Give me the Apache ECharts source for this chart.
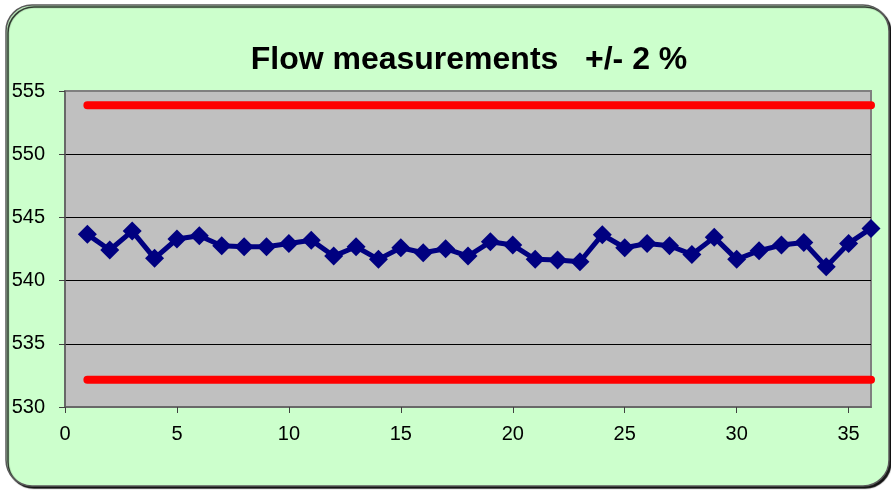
<!DOCTYPE html>
<html>
<head>
<meta charset="utf-8">
<script src="https://cdn.jsdelivr.net/npm/echarts@6/dist/echarts.min.js"></script>
<style>
html,body{margin:0;padding:0;background:#ffffff;}
#chart{width:891px;height:491px;}
</style>
</head>
<body>
<div id="chart"></div>
<script>
var titleText = 'Flow measurements   +/- 2 %';
var xs = [1,2,3,4,5,6,7,8,9,10,11,12,13,14,15,16,17,18,19,20,21,22,23,24,25,26,27,28,29,30,31,32,33,34,35,36];
var flow = [543.66,542.42,543.92,541.76,543.29,543.55,542.76,542.68,542.68,542.94,543.2,541.94,
            542.68,541.68,542.6,542.2,542.52,541.94,543.07,542.81,541.68,541.63,541.49,543.63,
            542.6,542.94,542.76,542.07,543.42,541.68,542.36,542.81,543.02,541.1,542.94,544.13];
var upperLimit = 553.87;
var lowerLimit = 532.15;
var yMin = 530, yMax = 555, yStep = 5;
var xMin = 0, xMax = 36, xStep = 5;

var flowPts = xs.map(function(x,i){return [x, flow[i]];});
var upperPts = xs.map(function(x){return [x, upperLimit];});
var lowerPts = xs.map(function(x){return [x, lowerLimit];});

var chart = echarts.init(document.getElementById('chart'), null, {renderer:'canvas'});
var font = 'Liberation Sans, Arial, sans-serif';
chart.setOption({
  animation:false,
  backgroundColor:'#ffffff',
  graphic:[{
    type:'rect', z:-100, silent:true,
    shape:{x:6,y:5,width:883,height:481,r:26},
    style:{fill:'#CCFFCC', stroke:'#5a5a5a', lineWidth:1.5,
           shadowColor:'rgba(0,0,0,0.9)', shadowOffsetX:2, shadowOffsetY:2, shadowBlur:1}
  }],
  title:{
    text:titleText, left:464, top:39, textAlign:'center',
    textStyle:{fontFamily:font, fontSize:32, fontWeight:'bold', color:'#000'}
  },
  grid:{left:65, top:91, right:20, bottom:84, show:true, backgroundColor:'#C0C0C0', borderColor:'#808080', borderWidth:2, containLabel:false},
  xAxis:{
    type:'value', min:xMin, max:xMax, interval:xStep,
    axisLine:{show:true, lineStyle:{color:'#606060', width:1.5}},
    axisTick:{show:true, length:6, lineStyle:{color:'#404040'}},
    axisLabel:{fontFamily:font, fontSize:20, color:'#000', margin:17, showMaxLabel:false},
    splitLine:{show:false}
  },
  yAxis:{
    type:'value', min:yMin, max:yMax, interval:yStep,
    axisLine:{show:true, lineStyle:{color:'#606060', width:1.5}},
    axisTick:{show:true, length:6, lineStyle:{color:'#404040'}},
    axisLabel:{fontFamily:font, fontSize:20, color:'#000', margin:20},
    splitLine:{show:true, showMinLine:false, showMaxLine:false, lineStyle:{color:'#000', width:1}}
  },
  series:[
    {type:'line', data:flowPts, symbol:'diamond', symbolSize:[19,19],
     lineStyle:{color:'#000080', width:5}, itemStyle:{color:'#000080'}, z:3},
    {type:'line', data:upperPts, symbol:'none', lineStyle:{color:'#FF0000', width:8, cap:'round'}, z:2},
    {type:'line', data:lowerPts, symbol:'none', lineStyle:{color:'#FF0000', width:8, cap:'round'}, z:2}
  ]
});
</script>
</body>
</html>
